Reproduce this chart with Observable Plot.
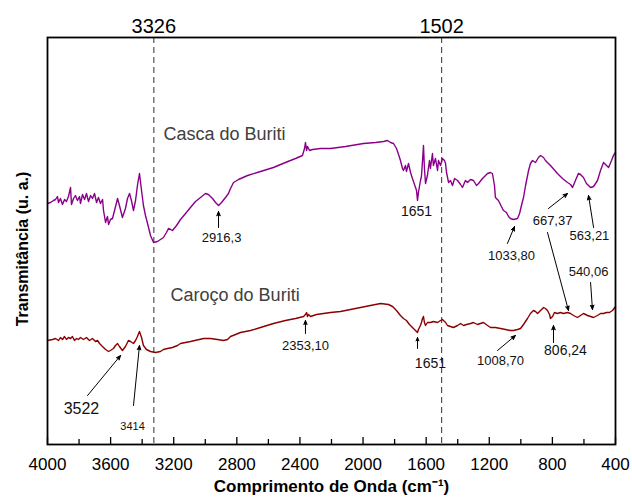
<!DOCTYPE html>
<html><head><meta charset="utf-8">
<script src="https://cdn.jsdelivr.net/npm/d3@7"></script>
<script src="https://cdn.jsdelivr.net/npm/@observablehq/plot@0.6"></script>
<style>body{margin:0;background:#fff;} #chart svg{display:block}</style>
</head><body><div id="chart"></div>
<script>
// Wavenumbers (cm-1) and transmittance (arbitrary units)
const wnCasca = [4000,3981,3962,3949,3937,3930,3918,3905,3892,3880,3867,3854,3848,3835,3823,3810,3797,3791,3778,3765,3753,3740,3727,3715,3702,3689,3677,3664,3651,3645,3632,3620,3613,3601,3588,3575,3556,3544,3525,3506,3493,3480,3468,3455,3442,3430,3417,3404,3392,3379,3366,3347,3328,3303,3284,3265,3246,3233,3220,3208,3182,3157,3125,3094,3062,3030,2999,2980,2954,2935,2916,2897,2872,2853,2840,2821,2789,2732,2650,2568,2492,2428,2384,2371,2365,2358,2352,2339,2320,2270,2206,2111,1997,1921,1870,1845,1826,1807,1788,1775,1763,1750,1744,1731,1725,1712,1699,1687,1674,1661,1655,1649,1636,1630,1623,1617,1611,1604,1592,1579,1573,1560,1554,1541,1528,1522,1509,1497,1484,1477,1471,1458,1446,1433,1420,1401,1382,1370,1351,1338,1319,1300,1281,1268,1243,1211,1192,1180,1167,1161,1142,1123,1110,1091,1078,1066,1047,1021,1008,996,983,970,951,939,926,907,888,875,856,844,812,768,736,704,685,672,654,635,622,603,584,558,539,514,495,476,457,444,425,413,400];
const tCasca = [241,242,244,245,248,242,246,240,245,243,248,257,240,246,249,244,248,241,250,245,251,243,249,246,251,242,247,241,245,234,222,228,220,225,226,234,246,239,227,236,246,251,244,234,244,259,271,254,239,229,221,209,202,203,205,207,212,216,215,214,219,225,231,237,243,247,251,250,246,242,239,242,247,251,256,262,265,269,273,277,282,286,289,296,302,294,298,294,295,296,296,298,301,302,303,304,302,301,296,290,284,276,274,279,273,281,272,266,260,254,244,252,264,268,284,299,276,261,269,284,276,291,279,286,274,284,279,286,284,281,272,262,264,259,266,264,260,257,264,262,265,264,259,261,266,271,272,271,259,247,244,238,234,232,228,226,225,226,231,239,247,259,274,281,284,282,287,289,287,284,279,271,266,262,260,257,264,271,270,267,261,257,258,264,274,282,279,277,284,289,292];

const wnCaroco = [4000,3968,3949,3930,3918,3905,3892,3880,3867,3854,3842,3829,3816,3804,3791,3772,3753,3734,3715,3696,3683,3670,3658,3645,3632,3613,3601,3582,3569,3556,3544,3525,3506,3487,3474,3455,3442,3430,3417,3404,3392,3373,3347,3316,3284,3265,3239,3208,3176,3157,3094,3011,2967,2923,2885,2859,2840,2808,2777,2713,2650,2568,2492,2428,2377,2365,2358,2352,2346,2333,2295,2251,2206,2143,2048,1953,1889,1839,1813,1788,1763,1744,1725,1706,1687,1668,1655,1649,1636,1630,1623,1617,1611,1604,1592,1573,1554,1528,1509,1497,1477,1465,1446,1427,1401,1382,1363,1344,1319,1300,1275,1256,1237,1211,1192,1161,1129,1097,1066,1047,1021,1002,983,958,939,920,907,894,875,856,844,831,818,812,799,787,768,749,730,704,685,666,641,622,603,577,558,539,514,495,476,457,438,419,400];
const tCaroco = [104,105,106,104,107,105,108,105,107,106,108,104,106,105,107,105,107,104,106,103,104,101,99,97,95,93,94,96,99,101,98,94,98,104,103,101,104,108,113,107,99,95,93,92,93,95,96,97,99,101,103,106,106,105,104,105,108,110,112,114,117,121,124,126,128,130,132,128,130,128,130,131,132,133,136,139,141,140,138,134,129,126,124,120,117,114,112,115,119,122,126,128,122,119,122,122,123,122,124,125,122,119,118,117,119,121,119,120,121,122,120,121,122,119,117,117,116,115,114,114,115,116,120,126,131,134,133,131,134,137,136,134,130,126,128,132,131,132,131,132,131,129,127,129,131,129,128,127,129,131,131,132,132,134,138];

const seriesNames = ["Casca do Buriti", "Caroço do Buriti"];
const seriesNameWn = [3265, 3220];
const seriesNameT = [310, 149];

const markedWn = [3326, 1502];

const majorTicks = [4000,3600,3200,2800,2400,2000,1600,1200,800,400];
const minorTicks = [3800,3400,3000,2600,2200,1800,1400,1000,600];

const peakLabels = ["2916,3","1651","1033,80","667,37","563,21","540,06","3522","3414","2353,10","1651","1008,70","806,24"];
const peakLabelWn = [2897,1661,1059,799,565,571,3785,3461,2365,1573,1129,717];
const peakLabelT  = [207,233,189,224,209,173,36,18,99,81,84,94];
const peakLabelSize = [13,14,13,13,13,13,16,11,13,14,13,14];

const arrowWn1 = [2916,1085,825,831,539,558,3746,3455,2365,1655,1148,793];
const arrowT1  = [217,201,236,212,217,162,49,39,111,96,94,102];
const arrowWn2 = [2916,1040,704,698,571,546,3537,3417,2365,1655,1034,793];
const arrowT2  = [233,218,251,134,249,135,89,99,124,107,109,119];

const casca = wnCasca.map((w, i) => ({wn: w, t: tCasca[i]}));
const caroco = wnCaroco.map((w, i) => ({wn: w, t: tCaroco[i]}));
const labels = peakLabels.map((s, i) => ({s, wn: peakLabelWn[i], t: peakLabelT[i], size: peakLabelSize[i]}));
const arrows = arrowWn1.map((w, i) => ({x1: w, y1: arrowT1[i], x2: arrowWn2[i], y2: arrowT2[i]}));
const names = seriesNames.map((s, i) => ({s, wn: seriesNameWn[i], t: seriesNameT[i]}));

const chart = Plot.plot({
  width: 632, height: 500,
  marginLeft: 47, marginRight: 17, marginTop: 37, marginBottom: 56,
  style: {fontFamily: "'Liberation Sans', Arial, sans-serif", fontSize: "17px", color: "#000", background: "#fff", overflow: "visible"},
  x: {domain: [4000, 400]},
  y: {domain: [0, 407], axis: null},
  marks: [
    Plot.ruleX(markedWn, {stroke: "#444", strokeWidth: 1.1, strokeDasharray: "6,4"}),
    Plot.text(markedWn, {x: d => d, frameAnchor: "top", dy: -19, text: d => String(d), fontSize: 20}),
    Plot.line(casca, {x: "wn", y: "t", stroke: "#8B008B", strokeWidth: 1.4}),
    Plot.line(caroco, {x: "wn", y: "t", stroke: "#8B0000", strokeWidth: 1.4}),
    Plot.text(names, {x: "wn", y: "t", text: "s", textAnchor: "start", fill: "#404040", fontSize: 18}),
    Plot.text(labels, {x: "wn", y: "t", text: "s", fontSize: "size", fill: "#111"}),
    Plot.arrow(arrows, {x1: "x1", y1: "y1", x2: "x2", y2: "y2", stroke: "#000", fill: "#000", strokeWidth: 1, headLength: 7, headAngle: 45}),
    Plot.ruleX(majorTicks, {y1: 0, y2: 7, stroke: "#000", strokeWidth: 1.3}),
    Plot.ruleX(minorTicks, {y1: 0, y2: 5, stroke: "#000", strokeWidth: 1.3}),
    Plot.axisX({ticks: majorTicks, tickSize: 0, tickPadding: 13, tickFormat: d3.format("d"), label: null, fontSize: 17}),
    Plot.frame({stroke: "#000", strokeWidth: 1.8}),
    Plot.text(["Transmitância (u. a.)"], {frameAnchor: "left", textAnchor: "middle", dx: -25, dy: 8, rotate: -90, fontWeight: "bold", fontSize: 16}),
    Plot.text(["Comprimento de Onda (cm⁻¹)"], {frameAnchor: "bottom", dy: 47, fontWeight: "bold", fontSize: 17})
  ]
});
document.getElementById("chart").append(chart);
</script>
</body></html>
